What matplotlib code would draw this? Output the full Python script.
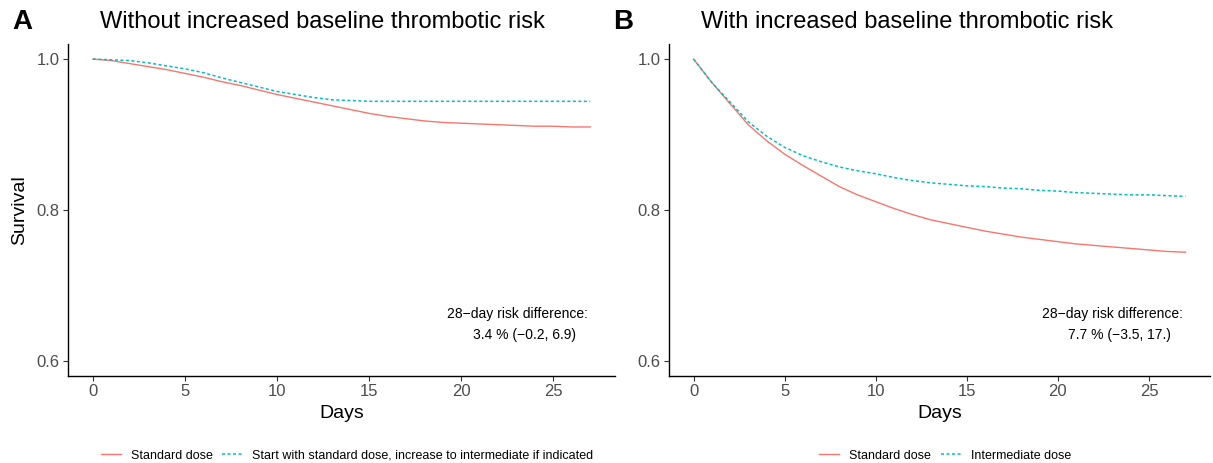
import matplotlib.pyplot as plt

plt.rcParams['font.family'] = ['Liberation Sans', 'DejaVu Sans']

days = list(range(28))

# Panel A: without increased baseline thrombotic risk
a_standard = [1.000, 0.998, 0.994, 0.990, 0.986, 0.981, 0.976, 0.970, 0.965, 0.959,
              0.953, 0.948, 0.943, 0.938, 0.933, 0.928, 0.924, 0.921, 0.918, 0.916,
              0.915, 0.914, 0.913, 0.912, 0.911, 0.911, 0.910, 0.910]
a_escalate = [1.000, 0.999, 0.998, 0.995, 0.991, 0.987, 0.982, 0.975, 0.969, 0.963,
              0.957, 0.953, 0.949, 0.946, 0.945, 0.944, 0.944, 0.944, 0.944, 0.944,
              0.944, 0.944, 0.944, 0.944, 0.944, 0.944, 0.944, 0.944]

# Panel B: with increased baseline thrombotic risk
b_standard = [1.000, 0.969, 0.941, 0.913, 0.892, 0.874, 0.859, 0.845, 0.831, 0.820,
              0.811, 0.802, 0.794, 0.787, 0.782, 0.777, 0.772, 0.768, 0.764, 0.761,
              0.758, 0.755, 0.753, 0.751, 0.749, 0.747, 0.745, 0.744]
b_intermediate = [1.000, 0.969, 0.943, 0.917, 0.898, 0.883, 0.872, 0.864, 0.857, 0.852,
                  0.848, 0.843, 0.839, 0.836, 0.834, 0.832, 0.831, 0.829, 0.828, 0.826,
                  0.825, 0.823, 0.822, 0.821, 0.820, 0.820, 0.819, 0.818]

panels = [
    dict(letter='A', title='Without increased baseline thrombotic risk',
         s1=a_standard, s2=a_escalate,
         lab1='Standard dose',
         lab2='Start with standard dose, increase to intermediate if indicated',
         ann1='28\u2212day risk difference:', ann2='3.4 % (\u22120.2, 6.9)',
         rect=[0.0561, 0.188, 0.451, 0.717]),
    dict(letter='B', title='With increased baseline thrombotic risk',
         s1=b_standard, s2=b_intermediate,
         lab1='Standard dose', lab2='Intermediate dose',
         ann1='28\u2212day risk difference:', ann2='7.7 % (\u22123.5, 17.)',
         rect=[0.5515, 0.188, 0.446, 0.717]),
]

red = '#F8766D'
cyan = '#00BFC4'

fig = plt.figure(figsize=(12.13, 4.63), dpi=100)

for i, p in enumerate(panels):
    ax = fig.add_axes(p['rect'])
    ax.plot(days, p['s1'], color=red, lw=1.0, label=p['lab1'])
    ax.plot(days, p['s2'], color=cyan, lw=1.1, dashes=(2, 1.6), label=p['lab2'])
    ax.set_xlim(-1.35, 28.35)
    ax.set_ylim(0.58, 1.02)
    ax.set_xticks([0, 5, 10, 15, 20, 25])
    ax.set_yticks([0.6, 0.8, 1.0])
    ax.set_yticklabels(['0.6', '0.8', '1.0'])
    for s in ['top', 'right']:
        ax.spines[s].set_visible(False)
    for s in ['left', 'bottom']:
        ax.spines[s].set_linewidth(1.0)
        ax.spines[s].set_color('black')
    ax.tick_params(length=3.5, width=0.8, color='#333333', labelcolor='#4D4D4D',
                   labelsize=12, pad=2.5)
    ax.set_xlabel('Days', fontsize=14, labelpad=4)
    if i == 0:
        ax.set_ylabel('Survival', fontsize=14, labelpad=6)

    ax.text(0.95, 0.187, p['ann1'], transform=ax.transAxes, ha='right', va='center',
            fontsize=10)
    ax.text(0.928, 0.122, p['ann2'], transform=ax.transAxes, ha='right', va='center',
            fontsize=10)

    x0 = p['rect'][0]
    fig.text(x0 - 0.046, 0.952, p['letter'], fontsize=20, fontweight='bold',
             ha='left', va='center')
    fig.text(x0 + 0.026, 0.952, p['title'], fontsize=17, ha='left', va='center')

    ax.legend(loc='center', bbox_to_anchor=(0.51, -0.24), ncol=2, frameon=False,
              fontsize=9, handlelength=1.6, columnspacing=0.8, handletextpad=0.8)

fig.savefig('out.png', dpi=100)
